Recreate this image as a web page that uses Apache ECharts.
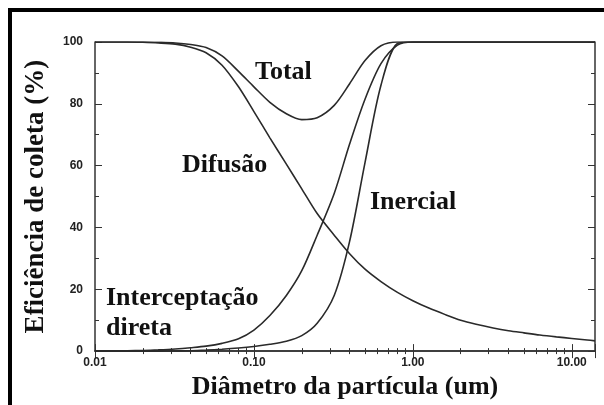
<!DOCTYPE html>
<html>
<head>
<meta charset="utf-8">
<script src="https://cdn.jsdelivr.net/npm/echarts@6/dist/echarts.min.js"></script>
<style>
  html, body { margin: 0; padding: 0; background: #fff; }
  #chart { width: 604px; height: 405px; }
</style>
</head>
<body>
<div id="chart"></div>
<script>
  // diâmetro da partícula (um), lido a cada ~0.1 década
  var diametro = [0.01, 0.013, 0.016, 0.02, 0.025, 0.032, 0.04, 0.05, 0.063, 0.08, 0.1, 0.126, 0.16, 0.2, 0.25,
    0.32, 0.4, 0.5, 0.63, 0.8, 1, 1.25, 1.6, 2, 2.5, 3.2, 4, 5, 6.3, 8, 10, 12.5, 14]
  // eficiência de coleta (%)
  var total = [100, 100, 100, 100, 99.9, 99.7, 99.2, 98.2, 95.5, 90.5, 85.5, 80.5, 76.8, 74.9, 75.5,
    79.5, 86.5, 94, 98.8, 100, 100, 100, 100, 100, 100, 100, 100, 100, 100, 100, 100, 100, 100]
  var difusao = [100, 100, 100, 99.9, 99.7, 99.3, 98.3, 96.5, 92.5, 85.5, 77.5, 69, 60.5, 52.5, 44.5,
    37.5, 31.5, 26.5, 22.5, 19, 16.3, 14, 11.8, 10, 8.7, 7.5, 6.6, 5.9, 5.2, 4.6, 4.1, 3.6, 3.3]
  var interceptacao = [0, 0, 0.1, 0.2, 0.4, 0.7, 1.1, 1.6, 2.5, 4, 6.8, 11.5, 18, 26, 37.5,
    51, 67, 81.5, 93, 99, 100, 100, 100, 100, 100, 100, 100, 100, 100, 100, 100, 100, 100]
  var inercial = [0, 0, 0, 0, 0, 0.05, 0.1, 0.3, 0.6, 1, 1.5, 2.2, 3.2, 5, 9,
    18, 35.5, 61, 86, 99.5, 100, 100, 100, 100, 100, 100, 100, 100, 100, 100, 100, 100, 100]

  var labelFont = { fontFamily: 'Liberation Serif', fontWeight: 'bold', fontSize: 26, fill: '#111' }
  var curveNotes = [
    { text: 'Total', x: 255, y: 57 },
    { text: 'Difusão', x: 182, y: 150 },
    { text: 'Inercial', x: 370, y: 187 },
    { text: 'Interceptação\ndireta', x: 106, y: 283 }
  ]

  var chart = echarts.init(document.getElementById('chart'))

  function lineSeries(name, values) {
    return {
      name: name,
      type: 'line',
      data: diametro.map(function (d, i) { return [d, values[i]] }),
      smooth: 0.3,
      symbol: 'none',
      lineStyle: { color: '#2a2a2a', width: 1.6 },
      silent: true
    }
  }

  var tickLabel = { fontFamily: 'Liberation Sans', fontWeight: 'bold', fontSize: 12, color: '#222' }

  chart.setOption({
    animation: false,
    backgroundColor: '#fff',
    grid: { left: 95, top: 42, right: 9, bottom: 53 },
    xAxis: [{
      type: 'log',
      logBase: 10,
      min: 0.01,
      max: 14,
      name: 'Diâmetro da partícula (um)',
      nameLocation: 'middle',
      nameGap: 21,
      nameTextStyle: { fontFamily: 'Liberation Serif', fontWeight: 'bold', fontSize: 26, color: '#111' },
      axisLine: { lineStyle: { color: '#333', width: 1.5 } },
      axisTick: { inside: true, length: 7, lineStyle: { color: '#333' } },
      minorTick: { show: true, splitNumber: 9, length: 3, lineStyle: { color: '#333' } },
      axisLabel: Object.assign({ margin: 6, showMaxLabel: false, formatter: function (v) { return v.toFixed(2) } }, tickLabel),
      splitLine: { show: false }
    }, {
      type: 'log',
      logBase: 10,
      min: 0.01,
      max: 14,
      position: 'top',
      axisLine: { lineStyle: { color: '#333', width: 1.5 } },
      axisTick: { inside: true, length: 7, lineStyle: { color: '#333' } },
      minorTick: { show: true, splitNumber: 9, length: 3, lineStyle: { color: '#333' } },
      axisLabel: { show: false },
      splitLine: { show: false }
    }],
    yAxis: [{
      type: 'value',
      min: 0,
      max: 100,
      interval: 20,
      name: 'Eficiência de coleta (%)',
      nameLocation: 'middle',
      nameGap: 45,
      nameTextStyle: { fontFamily: 'Liberation Serif', fontWeight: 'bold', fontSize: 27, color: '#111' },
      axisLine: { show: true, lineStyle: { color: '#333', width: 1.5 } },
      axisTick: { show: true, inside: true, length: 7, lineStyle: { color: '#333' } },
      minorTick: { show: true, splitNumber: 2, length: 4, lineStyle: { color: '#333' } },
      axisLabel: Object.assign({ margin: 12 }, tickLabel),
      splitLine: { show: false }
    }, {
      type: 'value',
      min: 0,
      max: 100,
      interval: 20,
      position: 'right',
      axisLine: { show: true, lineStyle: { color: '#333', width: 1.5 } },
      axisTick: { show: true, inside: true, length: 7, lineStyle: { color: '#333' } },
      minorTick: { show: true, splitNumber: 2, length: 4, lineStyle: { color: '#333' } },
      axisLabel: { show: false },
      splitLine: { show: false }
    }],
    graphic: [{
      type: 'rect',
      shape: { x: 10, y: 10, width: 700, height: 500 },
      style: { fill: 'none', stroke: '#000', lineWidth: 4 },
      silent: true,
      z: 100
    }].concat(curveNotes.map(function (n) {
      return {
        type: 'text',
        left: n.x,
        top: n.y,
        style: Object.assign({ text: n.text, lineHeight: 30 }, labelFont),
        silent: true,
        z: 50
      }
    })),
    series: [
      lineSeries('Total', total),
      lineSeries('Difusão', difusao),
      lineSeries('Interceptação direta', interceptacao),
      lineSeries('Inercial', inercial)
    ]
  })
</script>
</body>
</html>
